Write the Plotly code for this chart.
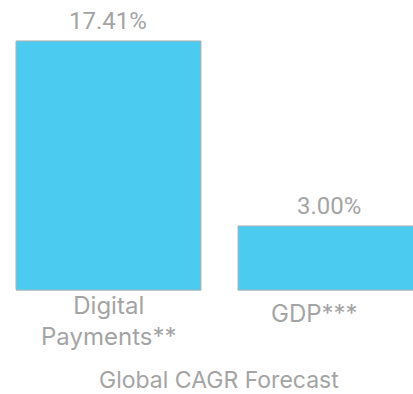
import plotly.graph_objects as go

categories = ["Digital<br>Payments**", "GDP***"]
values = [17.41, 3.00]
value_labels = ["17.41%", "3.00%"]
title_text = "Global CAGR Forecast"

BAR_COLOR = "#4ccbf0"
TEXT_COLOR = "#a4a4a4"
BASE = -2.0

x_idx = list(range(len(categories)))

fig = go.Figure()
fig.add_trace(go.Bar(
    x=x_idx,
    y=[v - BASE for v in values],
    base=BASE,
    marker=dict(color=BAR_COLOR, line=dict(color="#b0b0b0", width=1)),
    hoverinfo="skip",
))

annotations = []
for i, (v, lab) in enumerate(zip(values, value_labels)):
    annotations.append(dict(
        x=i, y=v, xref="x", yref="y", text=lab, showarrow=False,
        yanchor="bottom", yshift=4, xshift=-2 * i,
        font=dict(family="Roboto", size=24, color=TEXT_COLOR),
    ))
cat_shift = [(0, 1), (-16, -7)]
for i, c in enumerate(categories):
    annotations.append(dict(
        x=i, y=BASE, xref="x", yref="y", text=c, showarrow=False,
        yanchor="top", xshift=cat_shift[i][0], yshift=cat_shift[i][1],
        font=dict(family="Inter", size=24, color=TEXT_COLOR),
    ))
annotations.append(dict(
    x=0.53, y=0.036, xref="paper", yref="paper", text=title_text,
    showarrow=False, yanchor="middle", borderpad=0,
    font=dict(family="Inter", size=23, color=TEXT_COLOR),
))

fig.update_layout(
    width=413, height=394,
    margin=dict(l=0, r=0, t=0, b=0),
    paper_bgcolor="white", plot_bgcolor="white",
    bargap=0.167,
    showlegend=False,
    annotations=annotations,
    xaxis=dict(range=[-0.4887, 1.3716], visible=False, fixedrange=True),
    yaxis=dict(range=[-10.09, 20.6], visible=False, fixedrange=True),
)

fig.write_html("out.html")
